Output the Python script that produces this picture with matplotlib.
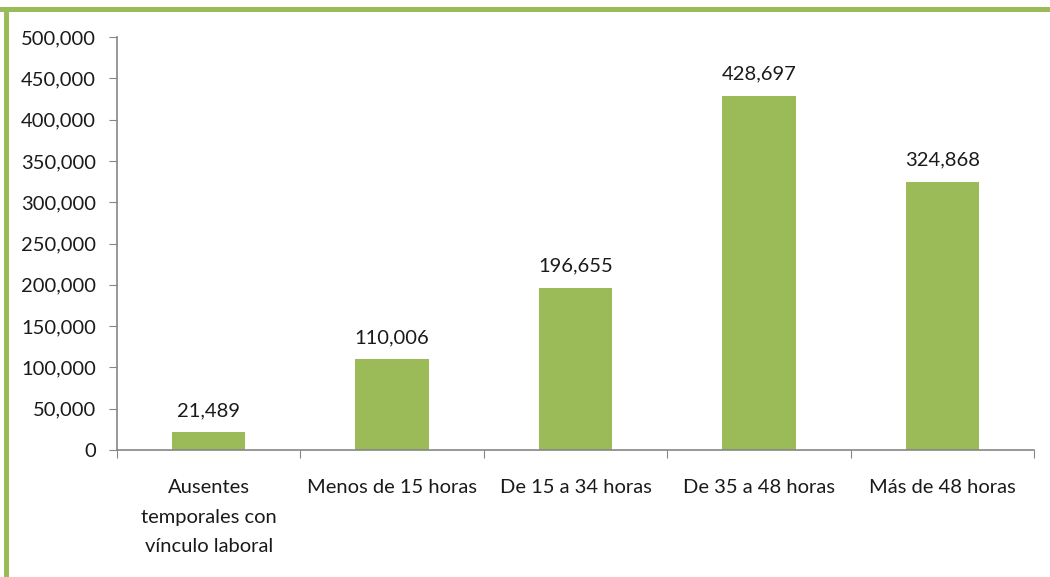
import matplotlib.pyplot as plt
from matplotlib.patches import Rectangle
from matplotlib.ticker import FuncFormatter

# Data
categories = ['Ausentes\ntemporales con\nvínculo laboral', 'Menos de 15 horas',
              'De 15 a 34 horas', 'De 35 a 48 horas', 'Más de 48 horas']
values = [21489, 110006, 196655, 428697, 324868]

green = '#9BBB59'
axis_grey = '#868686'
txt = '#1a1a1a'

plt.rcParams['font.family'] = ['Lato', 'DejaVu Sans']
plt.rcParams['font.size'] = 14.5

fig = plt.figure(figsize=(10.5, 5.77), dpi=100)
ax = fig.add_axes([117/1050, 1 - 450/577, (1034 - 117)/1050, (450 - 37)/577])

x = range(len(values))
ax.bar(x, values, width=0.4, color=green, zorder=2)
for xi, v in zip(x, values):
    ax.text(xi, v + 16000, f'{v:,}', ha='center', va='bottom', color=txt)

ax.set_xlim(-0.5, len(values) - 0.5)
ax.set_ylim(0, 500000)
ax.set_yticks(range(0, 500001, 50000))
ax.yaxis.set_major_formatter(FuncFormatter(lambda v, p: f'{int(v):,}'))

# category ticks at boundaries
ax.set_xticks([i - 0.5 for i in range(len(values) + 1)])
ax.set_xticklabels([])
ax.set_xticks(list(x), minor=True)
ax.set_xticklabels(categories, minor=True, color=txt, va='top', linespacing=1.9)
ax.tick_params(axis='x', which='minor', length=0, pad=21)
ax.tick_params(axis='x', which='major', length=6, color=axis_grey, direction='out')
ax.tick_params(axis='y', length=6, color=axis_grey, labelcolor=txt, pad=9)

for s in ['top', 'right']:
    ax.spines[s].set_visible(False)
for s in ['left', 'bottom']:
    ax.spines[s].set_color(axis_grey)
    ax.spines[s].set_linewidth(1.2)

# green frame (top and left)
fig.patches.append(Rectangle((0, 1 - 12/577), 1, 5/577, transform=fig.transFigure,
                             facecolor=green, edgecolor='none'))
fig.patches.append(Rectangle((4/1050, 0), 5/1050, 1 - 7/577, transform=fig.transFigure,
                             facecolor=green, edgecolor='none'))

fig.savefig('out.png', dpi=100)
